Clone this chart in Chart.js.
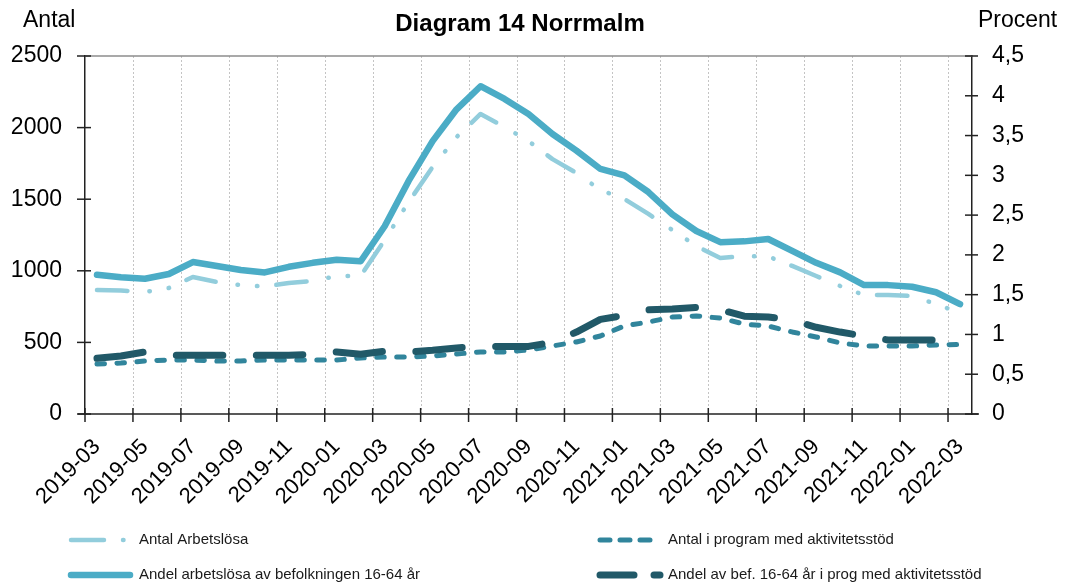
<!DOCTYPE html>
<html>
<head>
<meta charset="utf-8">
<script src="https://cdn.jsdelivr.net/npm/chart.js@4.4.1/dist/chart.umd.min.js"></script>
<style>
  html, body { margin: 0; padding: 0; background: #fff; }
  #wrap { width: 1066px; height: 586px; }
</style>
</head>
<body>
<div id="wrap"><canvas id="c" width="1066" height="586"></canvas></div>
<script>
// Månader 2019-03 .. 2022-03
const MONTHS = [
  '2019-03','2019-04','2019-05','2019-06','2019-07','2019-08','2019-09','2019-10','2019-11','2019-12',
  '2020-01','2020-02','2020-03','2020-04','2020-05','2020-06','2020-07','2020-08','2020-09','2020-10','2020-11','2020-12',
  '2021-01','2021-02','2021-03','2021-04','2021-05','2021-06','2021-07','2021-08','2021-09','2021-10','2021-11','2021-12',
  '2022-01','2022-02','2022-03'
];

// Antal (vänster axel)
const ANTAL_ARBETSLOSA = [
  866, 862, 852, 880, 957, 922, 900, 890, 915, 929,
  963, 965, 1215, 1480, 1725, 1934, 2095, 2004, 1906, 1780, 1683, 1564,
  1501, 1397, 1285, 1173, 1089, 1103, 1100, 1034, 964, 894, 830, 831,
  824, 768, 705
];
const ANTAL_PROGRAM = [
  349, 356, 370, 377, 377, 370, 370, 377, 377, 377,
  377, 391, 398, 398, 405, 419, 433, 433, 447, 475, 503, 545,
  615, 642, 677, 684, 670, 628, 614, 573, 538, 496, 475, 475,
  475, 482, 485
];

// Procent (höger axel)
const ANDEL_ARBETSLOSA = [
  1.75, 1.72, 1.70, 1.76, 1.91, 1.86, 1.81, 1.78, 1.85, 1.90,
  1.94, 1.92, 2.36, 2.93, 3.43, 3.83, 4.12, 3.96, 3.77, 3.52, 3.31, 3.08,
  3.00, 2.79, 2.51, 2.30, 2.16, 2.17, 2.20, 2.05, 1.90, 1.78, 1.62, 1.62,
  1.60, 1.53, 1.38
];
const ANDEL_PROGRAM = [
  0.70, 0.73, 0.78, 0.74, 0.74, 0.74, 0.74, 0.74, 0.74, 0.75,
  0.78, 0.75, 0.79, 0.78, 0.80, 0.83, 0.85, 0.85, 0.85, 0.90, 1.03, 1.19,
  1.24, 1.31, 1.32, 1.34, 1.31, 1.23, 1.22, 1.18, 1.09, 1.03, 0.98, 0.93,
  0.93, 0.93, 0.92
];

const LEFT_TICKS = [0, 500, 1000, 1500, 2000, 2500];
const RIGHT_TICKS = [0, 0.5, 1, 1.5, 2, 2.5, 3, 3.5, 4, 4.5];

const FONT = "'Liberation Sans', Arial, sans-serif";
const C_LIGHT = '#92cddc', C_SOLID = '#4bacc6', C_MID = '#31859c', C_DARK = '#215968';

// Linjestilar (delas med legenden)
const STYLES = {
  light: { color: C_LIGHT, width: 4.5, dash: [30.5, 22, 0.5, 19, 0.5, 19] },
  solid: { color: C_SOLID, width: 6.5, dash: [] },
  mid:   { color: C_MID,   width: 5,   dash: [7.5, 12.5] },
  dark:  { color: C_DARK,  width: 7,   dash: [46.5, 33.5] },
};

const LEGEND = [
  { text: 'Antal Arbetslösa', style: 'light', x: 71, y: 540, len: 55, dash: [33, 19, 0.5, 40] },
  { text: 'Andel arbetslösa av befolkningen 16-64 år', style: 'solid', x: 71, y: 575, len: 59, dash: [] },
  { text: 'Antal i program med aktivitetsstöd', style: 'mid', x: 600, y: 540, len: 60, dash: [10, 10] },
  { text: 'Andel av bef. 16-64 år i prog med aktivitetsstöd', style: 'dark', x: 600, y: 575, len: 60, dash: [34, 20, 6, 40] },
];

function line(ctx, x0, y0, x1, y1) {
  ctx.beginPath(); ctx.moveTo(x0, y0); ctx.lineTo(x1, y1); ctx.stroke();
}

// gräns mellan kategori i-1 och i
function boundary(x, i) {
  const half = (x.getPixelForValue(1) - x.getPixelForValue(0)) / 2;
  return x.getPixelForValue(i) - half;
}

// Prickade vertikala stödlinjer var annan månad
const vgrid = {
  id: 'vgrid',
  beforeDatasetsDraw(chart) {
    const { ctx, chartArea: a, scales: { x } } = chart;
    ctx.save();
    ctx.strokeStyle = '#c4c4c4';
    ctx.lineWidth = 1;
    ctx.setLineDash([2, 2]);
    for (let i = 2; i < MONTHS.length; i += 2) {
      const px = Math.round(boundary(x, i)) + 0.5;
      line(ctx, px, a.top, px, a.bottom);
    }
    ctx.restore();
  }
};

// Axelstreck (korsande), ramlinje, rubriker och legend
const decor = {
  id: 'decor',
  afterDraw(chart) {
    const { ctx, chartArea: a, scales: { x, y, y1 } } = chart;
    ctx.save();
    ctx.setLineDash([]);
    ctx.lineCap = 'butt';

    ctx.strokeStyle = '#8c8c8c'; ctx.lineWidth = 1.5;
    line(ctx, a.left, a.top, a.right, a.top);

    ctx.strokeStyle = '#222'; ctx.lineWidth = 1.5;
    line(ctx, a.left - 7, a.bottom, a.right + 7, a.bottom);
    LEFT_TICKS.forEach(v => { const py = y.getPixelForValue(v); line(ctx, a.left - 8, py, a.left + 6, py); });
    RIGHT_TICKS.forEach(v => { const py = y1.getPixelForValue(v); line(ctx, a.right - 7, py, a.right + 6, py); });
    for (let i = 0; i < MONTHS.length; i += 2) {
      const px = boundary(x, i);
      line(ctx, px, a.bottom - 6, px, a.bottom + 8);
    }

    ctx.fillStyle = '#000';
    ctx.textBaseline = 'middle';
    ctx.font = `bold 24px ${FONT}`;
    ctx.textAlign = 'center';
    ctx.fillText('Diagram 14 Norrmalm', 520, 24);
    ctx.font = `23px ${FONT}`;
    ctx.textAlign = 'left';
    ctx.fillText('Antal', 23, 21);
    ctx.fillText('Procent', 978, 21);

    ctx.font = `15px ${FONT}`;
    ctx.fillStyle = '#1a1a1a';
    LEGEND.forEach(item => {
      const s = STYLES[item.style];
      ctx.strokeStyle = s.color;
      ctx.lineWidth = s.width;
      ctx.lineCap = 'round';
      ctx.setLineDash(item.dash);
      line(ctx, item.x, item.y, item.x + item.len, item.y);
      ctx.setLineDash([]);
      ctx.fillText(item.text, item.x + 68, item.y);
    });
    ctx.restore();
  }
};

function ds(label, data, key, axis, order) {
  const s = STYLES[key];
  return {
    label, data, yAxisID: axis, order,
    borderColor: s.color, backgroundColor: s.color,
    borderWidth: s.width, borderDash: s.dash,
    borderCapStyle: 'round', borderJoinStyle: 'round',
    pointRadius: 0, tension: 0, fill: false,
  };
}

new Chart(document.getElementById('c'), {
  type: 'line',
  data: {
    labels: MONTHS,
    datasets: [
      ds('Andel av bef. 16-64 år i prog med aktivitetsstöd', ANDEL_PROGRAM, 'dark', 'y1', 0),
      ds('Andel arbetslösa av befolkningen 16-64 år', ANDEL_ARBETSLOSA, 'solid', 'y1', 1),
      ds('Antal i program med aktivitetsstöd', ANTAL_PROGRAM, 'mid', 'y', 2),
      ds('Antal Arbetslösa', ANTAL_ARBETSLOSA, 'light', 'y', 3),
    ],
  },
  options: {
    responsive: false,
    devicePixelRatio: 1,
    animation: false,
    layout: { padding: { top: 56, left: 0, right: 0, bottom: 0 } },
    plugins: { legend: { display: false }, tooltip: { enabled: false }, title: { display: false } },
    scales: {
      x: {
        offset: true,
        grid: { display: false, drawTicks: false },
        border: { display: false },
        ticks: {
          autoSkip: false, minRotation: 45, maxRotation: 45,
          padding: 20, labelOffset: 0,
          color: '#000', font: { family: FONT, size: 22 },
          callback: (v, i) => i % 2 === 0 ? MONTHS[i] : '',
        },
        afterFit: s => { s.height = 172; },
      },
      y: {
        position: 'left', min: 0, max: 2500,
        grid: { display: false, drawTicks: false },
        border: { display: true, color: '#222', width: 1.5 },
        ticks: {
          stepSize: 500, padding: 23, color: '#000', font: { family: FONT, size: 23 },
          callback: v => String(v),
        },
        afterFit: s => { s.width = 85; },
      },
      y1: {
        position: 'right', min: 0, max: 4.5,
        grid: { display: false, drawTicks: false },
        border: { display: true, color: '#222', width: 1.5 },
        ticks: {
          stepSize: 0.5, padding: 20, color: '#000', font: { family: FONT, size: 23 },
          callback: v => String(Math.round(v * 10) / 10).replace('.', ','),
        },
        afterFit: s => { s.width = 94; },
      },
    },
  },
  plugins: [vgrid, decor],
});
</script>
</body>
</html>
